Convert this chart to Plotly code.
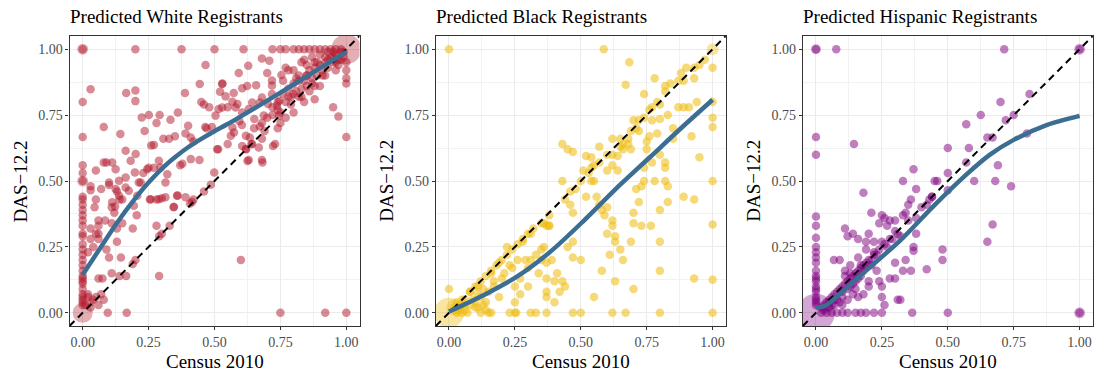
import plotly.graph_objects as go

# ---------------- data ----------------
titles = ["Predicted White Registrants", "Predicted Black Registrants", "Predicted Hispanic Registrants"]
x_title = "Census 2010"
y_title = "DAS\u221212.2"
tick_vals = [0, 0.25, 0.5, 0.75, 1.0]
tick_text = ["0.00", "0.25", "0.50", "0.75", "1.00"]

# White panel points
white_x = [0.2, 0.375, 0.5, 0.61, 0.72, 0.75, 0.77, 0.8, 0.82, 0.84, 0.86, 0.88, 0.9, 0.92, 0.94, 0.96, 0.98,
           0.095, 0.167, 0.75, 0.92, 1.0,
           0, 0, 0, 0, 0, 0, 0, 0, 0, 0, 0, 0, 0, 0, 0, 0, 0, 0, 0, 0, 0, 0, 0, 0, 0, 0, 0, 0, 0,
           0.03, 0.08, 0.165, 0.2, 0.2, 0.224, 0.251, 0.292, 0.333, 0.361, 0.235, 0.28, 0.143, 0.27, 0.306, 0.328, 0.35,
           0.388, 0.444, 0.4, 0.39, 0.41, 0.42, 0.46, 0.48, 0.465, 0.49, 0.378, 0.41, 0.443, 0.514, 0.499, 0.486, 0.415,
           0.529, 0.521, 0.542, 0.573, 0.605, 0.624, 0.658, 0.68, 0.708, 0.592, 0.628, 0.466,
           0.516, 0.504, 0.529, 0.58, 0.587, 0.568, 0.605, 0.63, 0.643, 0.672, 0.68, 0.687, 0.703, 0.718, 0.718, 0.718,
           0.737, 0.746, 0.754, 0.744, 0.594, 0.604, 0.568, 0.574, 0.562, 0.619, 0.634, 0.672, 0.651, 0.68, 0.668, 0.643,
           0.722, 0.625, 0.682, 0.605, 0.619,
           0.112, 0.125, 0.163, 0.182, 0.201, 0.198, 0.213, 0.163, 0.163, 0.138, 0.125, 0.138, 0.175, 0.1, 0.112, 0.123,
           0.207, 0.194, 0.22, 0.245, 0.289, 0.295, 0.321, 0.314, 0.258, 0.289, 0.314, 0.358, 0.346, 0.39,
           0.6, 0.407, 0.42, 0.46, 0.37, 0.36, 0.345, 0.3, 0.28, 0.255, 0.28, 0.29, 0.3, 0.33, 0.29, 0.26, 0.27, 0.25,
           0.23, 0.205, 0.19, 0.2, 0.19, 0.145, 0.165, 0.14, 0.09, 0.1, 0.11, 0.07, 0.06, 0.075, 0.13, 0.13, 0.11, 0.11,
           0.12, 0.13, 0.14, 0.15, 0.15, 0.09, 0.08, 0.05, 0.07, 0.1, 0.03, 0.03, 0.05, 0.045, 0.06, 0.085, 0.05, 0.06,
           0.06, 0.03, 0.04, 0.02, 0.03, 0.06, 0.02, 0.03, 0.04, 0.05, 0.03, 0.01, 0.02, 0.06, 0.08,
           0.51, 0.55, 0.63, 0.68, 0.73, 0.7, 0.77, 0.8, 0.8, 0.82, 0.82, 0.83, 0.85, 0.85, 0.88, 0.88, 0.9, 0.92,
           0.95, 0.97, 1.0, 1.0, 1.0, 1.0, 1.0, 0.62, 0.64, 0.65, 0.55, 0.47, 0.53, 0.45,
           0.72, 0.74, 0.75, 0.76, 0.77, 0.78, 0.79, 0.8, 0.81, 0.82, 0.83, 0.84, 0.85, 0.86, 0.87, 0.88, 0.89, 0.9,
           0.91, 0.92, 0.93, 0.94, 0.95, 0.96, 0.97, 0.98, 0.99, 0.9, 0.86, 0.8, 0.77, 0.75, 0.74, 0.72, 0.7, 0.69,
           0.68, 0.76, 0.78, 0.84, 0.87, 0.93, 0.95, 0.98, 0.99, 0.97, 0.96,
           0.81, 0.83, 0.85, 0.87, 0.89, 0.91, 0.93, 0.95, 0.79, 0.88, 0.92, 0.96, 0.74, 0.78, 0.84, 0, 0]
white_y = [1, 1, 1, 1, 1, 1, 1, 1, 1, 1, 1, 1, 1, 1, 1, 1, 1,
           0, 0, 0, 0, 0,
           0.8, 0.667, 0.56, 0.53, 0.44, 0.43, 0.41, 0.39, 0.37, 0.35, 0.33, 0.3, 0.29, 0.26, 0.24, 0.22, 0.2, 0.18,
           0.16, 0.14, 0.13, 0.12, 0.11, 0.09, 0.07, 0.06, 0.05, 0.04, 0.03,
           0.848, 0.705, 0.834, 0.843, 0.803, 0.741, 0.75, 0.75, 0.732, 0.76, 0.69, 0.72, 0.678, 0.637, 0.66, 0.66, 0.67,
           0.834, 0.868, 0.71, 0.68, 0.665, 0.65, 0.79, 0.78, 0.705, 0.705, 0.565, 0.583, 0.58, 0.62, 0.532, 0.486, 0.42,
           0.868, 0.839, 0.821, 0.834, 0.852, 0.86, 0.863, 0.965, 0.956, 0.91, 0.937, 0.94,
           0.773, 0.748, 0.779, 0.779, 0.792, 0.801, 0.76, 0.773, 0.798, 0.798, 0.817, 0.748, 0.792, 0.83, 0.862, 0.881,
           0.785, 0.804, 0.902, 0.748, 0.728, 0.712, 0.703, 0.684, 0.672, 0.672, 0.665, 0.707, 0.735, 0.72, 0.627, 0.64,
           0.633, 0.576, 0.57, 0.633, 0.621,
           0.57, 0.545, 0.615, 0.577, 0.602, 0.532, 0.494, 0.513, 0.475, 0.501, 0.47, 0.444, 0.463, 0.494, 0.419, 0.403,
           0.444, 0.406, 0.494, 0.545, 0.577, 0.551, 0.526, 0.494, 0.431, 0.431, 0.438, 0.444, 0.402, 0.438,
           0.2, 0.415, 0.43, 0.46, 0.56, 0.445, 0.4, 0.435, 0.43, 0.43, 0.33, 0.29, 0.3, 0.33, 0.14, 0.635, 0.55, 0.55,
           0.53, 0.37, 0.32, 0.2, 0.185, 0.21, 0.14, 0.14, 0.24, 0.21, 0.15, 0.07, 0.13, 0.13, 0.27, 0.32, 0.34, 0.4,
           0.38, 0.46, 0.43, 0.43, 0.34, 0.57, 0.57, 0.54, 0.47, 0.485, 0.48, 0.465, 0.43, 0.4, 0.35, 0.35, 0.3, 0.28,
           0.3, 0.28, 0.25, 0.23, 0.32, 0.33, 0.06, 0.04, 0.05, 0.06, 0.02, 0.03, 0.07, 0.03, 0.05,
           0.62, 0.64, 0.58, 0.58, 0.64, 0.91, 0.93, 0.92, 0.87, 0.88, 0.82, 0.95, 0.94, 0.9, 0.81, 0.95, 0.98, 0.97,
           0.78, 0.745, 0.667, 0.87, 0.89, 0.92, 0.95, 0.62, 0.64, 0.7, 0.78, 0.7, 0.87, 0.8,
           0.78, 0.8, 0.76, 0.83, 0.8, 0.85, 0.79, 0.83, 0.89, 0.9, 0.85, 0.88, 0.86, 0.92, 0.89, 0.93, 0.9, 0.94,
           0.92, 0.95, 0.93, 0.97, 0.95, 0.98, 0.96, 0.99, 0.97, 0.86, 0.84, 0.76, 0.74, 0.72, 0.7, 0.75, 0.74, 0.69,
           0.66, 0.88, 0.92, 0.96, 0.97, 0.99, 0.99, 0.96, 0.99, 0.94, 0.92,
           0.84, 0.82, 0.9, 0.87, 0.95, 0.9, 0.96, 0.97, 0.82, 0.86, 0.9, 0.95, 0.77, 0.82, 0.8, 1.0, 0.5]
white_big_x = [0, 1, 0, 0]
white_big_y = [0, 1, 1, 0.5]
white_big_s = [20, 30, 11, 11]

# Black panel points
black_x = [0, 0.587, 0.684, 0.67, 0.78, 0.74,
           0.97, 0.95, 0.93, 0.9, 0.88, 0.89, 0.87, 0.84, 0.82, 0.82, 0.8, 0.79, 0.77, 0.76, 0.74, 0.72, 0.71, 0.69,
           0.68, 0.66, 0.65, 0.62, 0.6, 0.57, 0.54, 0.53, 0.5, 0.48, 0.46,
           0.93, 0.94, 0.91, 0.89, 0.87, 0.92, 0.85, 0.83, 0.85, 0.95, 0.89, 0.93, 0.93,
           1.0, 1.0, 1.0, 1.0, 1.0, 1.0, 1.0,
           0.8, 0.79, 0.77, 0.76, 0.75, 0.72, 0.7, 0.69, 0.68, 0.66, 0.65, 0.64, 0.64, 0.62, 0.62, 0.6, 0.57, 0.55,
           0.54, 0.52, 0.51, 0.54, 0.55, 0.52, 0.56, 0.57, 0.58, 0.59, 0.6, 0.62, 0.62, 0.6, 0.63, 0.63, 0.61, 0.65,
           0.66, 0.63, 0.69, 0.7, 0.7, 0.73, 0.71, 0.72, 0.73, 0.74, 0.74, 0.75, 0.77, 0.78, 0.8, 0.8, 0.8, 0.82, 0.82,
           0.83, 0.83, 0.82, 0.8, 0.766, 0.7, 0.58, 0.55, 0.5, 0.47, 0.45, 0.47, 0.44, 0.43, 0.42, 0.4, 0.41, 0.4,
           0.37, 0.37, 0.37, 0.39, 0.37, 0.36, 0.35, 0.36, 0.38, 0.35, 0.34, 0.33, 0.31, 0.3, 0.29, 0.28, 0.31, 0.3,
           0.27, 0.27, 0.26, 0.25, 0.24, 0.25, 0.22, 0.2, 0.19, 0.19, 0.17, 0.16, 0.14, 0.15, 0.12, 0.11, 0.08, 0.1,
           0.06, 0.05, 0,
           0.03, 0.05, 0.07, 0.12, 0.15, 0.16, 0.23, 0.25, 0.255, 0.31, 0.33, 0.37, 0.47, 0.5, 0.62, 0.67, 0.8, 1.0,
           0.02, 0.04, 0.06, 0.08, 0.1, 0.11, 0.13, 0.14,
           0.05, 0.08, 0.1, 0.12, 0.14, 0.16, 0.18, 0.2, 0.22, 0.24, 0.26, 0.28, 0.3, 0.32, 0.35, 0.38, 0.37, 0.38,
           0.43, 0.45, 0.47, 0.43, 0.44, 0.47, 0.46, 0.02, 0.03, 0.04, 0.06, 0.09, 0.11, 0.13, 0.17, 0.21, 0.23]
black_y = [1.0, 1.0, 0.95, 0.865, 0.89, 0.83,
           0.96, 0.94, 0.93, 0.93, 0.91, 0.88, 0.88, 0.87, 0.86, 0.84, 0.79, 0.8, 0.78, 0.77, 0.74, 0.73, 0.7, 0.69,
           0.66, 0.64, 0.63, 0.6, 0.6, 0.57, 0.55, 0.53, 0.5, 0.47, 0.46,
           0.89, 0.8, 0.78, 0.78, 0.78, 0.67, 0.66, 0.75, 0.7, 0.59, 0.44, 0.43, 0.13,
           0.93, 0.8, 0.74, 0.705, 0.5, 0.335, 0.125,
           0.735, 0.68, 0.73, 0.67, 0.65, 0.69, 0.73, 0.62, 0.64, 0.62, 0.66, 0.595, 0.54, 0.56, 0.66, 0.54, 0.63, 0.56,
           0.59, 0.595, 0.54, 0.5, 0.5, 0.44, 0.44, 0.41, 0.39, 0.37, 0.4, 0.35, 0.33, 0.3, 0.29, 0.27, 0.22, 0.24,
           0.2, 0.12, 0.27, 0.38, 0.34, 0.33, 0.47, 0.42, 0.48, 0.55, 0.5, 0.62, 0.57, 0.5, 0.39, 0.27, 0.16, 0.55, 0.57,
           0.48, 0.42, 0.5, 0.6, 0.33, 0.09, 0.16, 0.06, 0.2, 0.21, 0.25, 0.27, 0.1, 0.12, 0.08, 0.12, 0.15, 0.04,
           0.06, 0.13, 0.08, 0.2, 0.19, 0.25, 0.24, 0.34, 0.33, 0.2, 0.15, 0.22, 0.2, 0.17, 0.2, 0.27, 0.3, 0.1,
           0.07, 0.13, 0.2, 0.1, 0.17, 0.04, 0.25, 0.13, 0.06, 0.19, 0.1, 0.15, 0.04, 0.08, 0.06, 0.1, 0.08, 0.02,
           0.05, 0.03, 0.09,
           0, 0, 0, 0, 0, 0, 0, 0, 0, 0, 0, 0, 0, 0, 0, 0, 0, 0,
           0.01, 0.02, 0.01, 0.03, 0.04, 0.02, 0.03, 0.01,
           0.05, 0.08, 0.1, 0.12, 0.14, 0.16, 0.18, 0.2, 0.22, 0.24, 0.26, 0.28, 0.3, 0.32, 0.34, 0.37, 0.33, 0.33,
           0.64, 0.62, 0.61, 0.5, 0.43, 0.38, 0.41, 0.02, 0.04, 0.01, 0.03, 0.05, 0.07, 0.09, 0.12, 0.15, 0.18]
black_big_x = [0, 1, 0.02]
black_big_y = [0, 1, 0.02]
black_big_s = [30, 12, 16]

# Hispanic panel points
hisp_x = [0.077, 0.714, 0, 0, 0.144, 0.18, 0.81, 0.7, 0.625, 0.57, 0.72, 0.75, 0.8, 0.65, 0.67, 0.58, 0.57, 0.5,
          0.69, 0.6, 0.68, 0.74, 0.5, 0.5, 0.46, 0.45, 0.44, 0.43, 0.42, 0.4, 0.38, 0.37, 0.33, 0.36, 0.35, 0.34,
          0.38, 0.33, 0.3, 0.28, 0.25, 0.26, 0.27, 0.3, 0.32, 0.28, 0.25, 0.22, 0.21, 0.24, 0.2, 0.19, 0.19, 0.16,
          0.14, 0.11, 0.12, 0.16, 0.09, 0.11, 0.13, 0.13, 0.15, 0.17, 0.18, 0.19, 0.2, 0.21, 0.22, 0.23, 0.24, 0.25,
          0.25, 0.26, 0.28, 0.3, 0.3, 0.31, 0.32, 0.33, 0.34, 0.36, 0.37, 0.37, 0.38, 0.42, 0.48, 0.48, 0.65, 0.67,
          0.5, 0.365, 0.25, 0.22, 0.19, 0.17, 0.15, 0.12, 0.1, 0.08, 0.06, 0.04, 0.02,
          0, 0, 0, 0, 0, 0, 0, 0, 0, 0, 0, 0, 0, 0, 0, 0, 0, 0,
          0.02, 0.03, 0.04, 0.05, 0.06, 0.07, 0.08, 0.09, 0.1, 0.11, 0.12, 0.13, 0.14, 0.15, 0.16, 0.17, 0.18, 0.2,
          0.22, 0.24, 0.26,
          0.05, 0.07, 0.08, 0.1, 0.1, 0.12, 0.14, 0.15, 0.16, 0.18, 0.2, 0.068, 0.11, 0.03, 0.04, 0.05, 0.06, 0.07,
          0.09, 0.1, 0.12, 0.13, 0.14, 0.16, 0.17, 0.19, 0.21, 0.23, 0.27, 0.29, 0.31, 0.35, 0.44, 0, 1.0, 1.0]
hisp_y = [1.0, 1.0, 0.667, 0.6, 0.64, 0.455, 0.83, 0.8, 0.75, 0.715, 0.73, 0.75, 0.68, 0.665, 0.665, 0.625, 0.57,
          0.625, 0.56, 0.5, 0.5, 0.48, 0.53, 0.465, 0.5, 0.5, 0.44, 0.43, 0.41, 0.4, 0.47, 0.545, 0.5, 0.43, 0.41,
          0.38, 0.36, 0.37, 0.35, 0.35, 0.37, 0.36, 0.33, 0.31, 0.29, 0.28, 0.27, 0.27, 0.38, 0.34, 0.3, 0.27, 0.24,
          0.28, 0.3, 0.32, 0.29, 0.21, 0.2, 0.16, 0.18, 0.15, 0.12, 0.18, 0.16, 0.19, 0.12, 0.2, 0.23, 0.16, 0.12,
          0.1, 0.06, 0.03, 0.13, 0.13, 0.19, 0.05, 0.05, 0.16, 0.2, 0.16, 0.25, 0.235, 0.3, 0.165, 0.24, 0.2, 0.27,
          0.335, 0, 0, 0, 0, 0, 0, 0, 0, 0, 0, 0, 0, 0,
          0.365, 0.33, 0.285, 0.25, 0.23, 0.21, 0.19, 0.16, 0.14, 0.13, 0.12, 0.1, 0.09, 0.08, 0.06, 0.05, 0.04,
          0.03,
          0.02, 0.03, 0.04, 0.05, 0.06, 0.07, 0.08, 0.09, 0.1, 0.11, 0.12, 0.13, 0.14, 0.15, 0.16, 0.17, 0.18, 0.2,
          0.22, 0.24, 0.26,
          0.02, 0.03, 0.05, 0.06, 0.03, 0.05, 0.07, 0.09, 0.06, 0.07, 0.1, 0.2, 0.14, 0.01, 0.02, 0.04, 0.03, 0.05,
          0.04, 0.08, 0.09, 0.1, 0.11, 0.13, 0.14, 0.17, 0.18, 0.22, 0.25, 0.28, 0.3, 0.35, 0.44, 1.0, 1.0, 0.0]
hisp_big_x = [0, 1, 1, 0]
hisp_big_y = [0, 1, 0, 1]
hisp_big_s = [38, 11, 11, 10]

# Smooth (loess) curves
white_fit_x = [0, 0.066, 0.129, 0.192, 0.255, 0.318, 0.35, 0.4, 0.45, 0.5, 0.55, 0.6, 0.7, 0.8, 0.9, 1.0]
white_fit_y = [0.144, 0.245, 0.34, 0.425, 0.5, 0.563, 0.59, 0.628, 0.66, 0.689, 0.716, 0.745, 0.805, 0.866,
               0.928, 0.99]
black_fit_x = [0, 0.133, 0.259, 0.386, 0.509, 0.636, 0.762, 0.88, 1.0]
black_fit_y = [0.005, 0.068, 0.138, 0.233, 0.347, 0.473, 0.59, 0.70, 0.808]
hisp_fit_x = [0, 0.04, 0.129, 0.193, 0.318, 0.444, 0.57, 0.66, 0.75, 0.877, 1.0]
hisp_fit_y = [0.018, 0.03, 0.106, 0.163, 0.273, 0.403, 0.524, 0.6, 0.656, 0.713, 0.747]

# ---------------- styling ----------------
W, H = 1094, 372
x_domains = [(69.5, 359.5), (435.8, 725.8), (802.8, 1092.8)]
y_domain = (36, 326)
point_colors = ["rgba(178,24,43,0.5)", "rgba(238,188,13,0.55)", "rgba(128,0,128,0.5)"]
fit_color = "#3C6E93"
font_family = "Liberation Serif, Times New Roman, serif"

panels = [
    (white_x, white_y, white_big_x, white_big_y, white_big_s, white_fit_x, white_fit_y),
    (black_x, black_y, black_big_x, black_big_y, black_big_s, black_fit_x, black_fit_y),
    (hisp_x, hisp_y, hisp_big_x, hisp_big_y, hisp_big_s, hisp_fit_x, hisp_fit_y),
]

fig = go.Figure()
annotations = []
layout_axes = {}
for i, (px_, py_, bx, by, bs, fx, fy) in enumerate(panels):
    n = "" if i == 0 else str(i + 1)
    xa, ya = "x" + n, "y" + n
    col = point_colors[i]
    fig.add_trace(go.Scatter(x=bx, y=by, mode="markers", xaxis=xa, yaxis=ya,
                             marker=dict(size=bs, color=col, line=dict(width=0)), showlegend=False))
    fig.add_trace(go.Scatter(x=px_, y=py_, mode="markers", xaxis=xa, yaxis=ya,
                             marker=dict(size=8.5, color=col, line=dict(width=0)), showlegend=False))
    fig.add_trace(go.Scatter(x=[-0.05, 1.05], y=[-0.05, 1.05], mode="lines", xaxis=xa, yaxis=ya,
                             line=dict(color="black", width=2, dash="7px,5px"), showlegend=False))
    fig.add_trace(go.Scatter(x=fx, y=fy, mode="lines", xaxis=xa, yaxis=ya,
                             line=dict(color=fit_color, width=4.5, shape="spline", smoothing=0.8),
                             showlegend=False))
    d0, d1 = x_domains[i]
    common = dict(range=[-0.05, 1.05], tickvals=tick_vals, ticktext=tick_text, showgrid=True,
                  gridcolor="#EBEBEB", gridwidth=1.1, zeroline=False, showline=True, mirror=True,
                  linecolor="#333333", linewidth=1.1, ticks="outside", ticklen=3, tickcolor="#333333",
                  tickfont=dict(family=font_family, size=14, color="#4D4D4D"),
                  minor=dict(tickvals=[0.125, 0.375, 0.625, 0.875], showgrid=True, gridcolor="#F2F2F2",
                             gridwidth=0.6, ticks=""),
                  fixedrange=True)
    layout_axes["xaxis" + n] = dict(common, domain=[d0 / W, d1 / W], anchor=ya)
    layout_axes["yaxis" + n] = dict(common, domain=[1 - y_domain[1] / H, 1 - y_domain[0] / H], anchor=xa)
    annotations.append(dict(text=titles[i], xref="paper", yref="paper", x=d0 / W, y=1 - 17 / H,
                            xanchor="left", yanchor="middle", showarrow=False, xshift=-2,
                            font=dict(family=font_family, size=19, color="black")))
    annotations.append(dict(text=x_title, xref="paper", yref="paper", x=(d0 + d1) / 2 / W, y=1 - 361 / H,
                            xanchor="center", yanchor="middle", showarrow=False,
                            font=dict(family=font_family, size=19, color="black")))
    annotations.append(dict(text=y_title, xref="paper", yref="paper", x=(d0 - 50) / W, y=1 - 181 / H,
                            xanchor="center", yanchor="middle", textangle=-90, showarrow=False,
                            font=dict(family=font_family, size=19, color="black")))

fig.update_layout(width=W, height=H, margin=dict(l=0, r=0, t=0, b=0), plot_bgcolor="white",
                  paper_bgcolor="white", annotations=annotations, showlegend=False, **layout_axes)
fig.write_html("out.html")
